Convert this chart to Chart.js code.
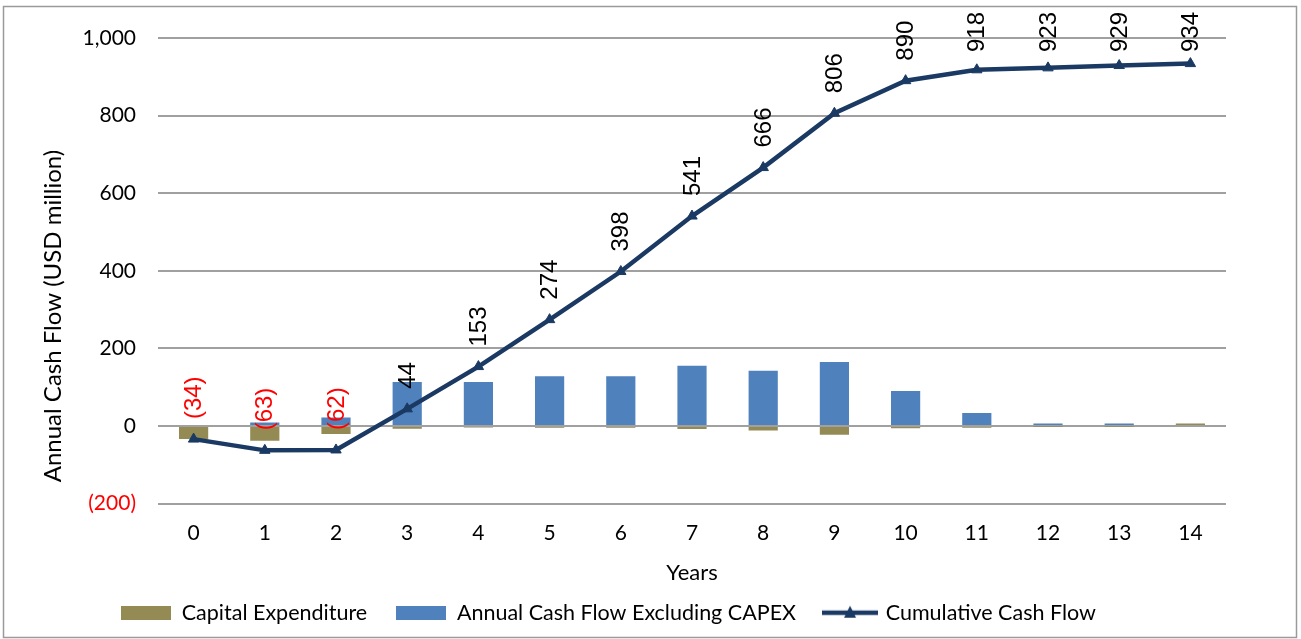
<!DOCTYPE html>
<html>
<head>
<meta charset="utf-8">
<script src="https://cdn.jsdelivr.net/npm/chart.js@4.4.1/dist/chart.umd.min.js"></script>
<style>
  html, body { margin: 0; padding: 0; background: #ffffff; }
  canvas { display: block; }
</style>
</head>
<body>
<canvas id="c" width="1301" height="639"></canvas>
<script>
// ---- Data ----
const years = ['0','1','2','3','4','5','6','7','8','9','10','11','12','13','14'];
const capitalExpenditure = [-34, -38, -21, -7, -4, -5, -5, -8, -12, -23, -6, -5, -1, -1, 6];
const annualCashFlowExCapex = [0, 9, 22, 113, 113, 128, 128, 155, 142, 165, 90, 33, 6, 6, 0];
const cumulativeCashFlow = [-34, -63, -62, 44, 153, 274, 398, 541, 666, 806, 890, 918, 923, 929, 934];
const yTicks = [-200, 0, 200, 400, 600, 800, 1000];

const seriesNames = ['Capital Expenditure', 'Annual Cash Flow Excluding CAPEX', 'Cumulative Cash Flow'];
const yAxisTitle = 'Annual Cash Flow (USD million)';
const xAxisTitle = 'Years';

// ---- Styles ----
const OLIVE = '#948A54';
const BLUE = '#4F81BD';
const NAVY = '#1B3A63';
const TEXT = '#000000';
const GRID = '#A0A0A0';
const UI_FONT = 'Lato, "Open Sans", sans-serif';
const LABEL_FONT = '"Liberation Sans", Arial, sans-serif';

function fmt(v) {
  const s = Math.abs(v).toLocaleString('en-US');
  return v < 0 ? '(' + s + ')' : s;
}

function makeSwatch(color, w, h) {
  const cv = document.createElement('canvas');
  cv.width = w; cv.height = h;
  const c = cv.getContext('2d');
  c.fillStyle = color;
  c.fillRect(0, 0, w, h);
  return cv;
}
function makeLineSwatch(color, w, h) {
  const cv = document.createElement('canvas');
  cv.width = w; cv.height = h;
  const c = cv.getContext('2d');
  c.strokeStyle = color;
  c.lineWidth = 4.5;
  c.beginPath();
  c.moveTo(0, h / 2); c.lineTo(w, h / 2);
  c.stroke();
  c.fillStyle = color;
  c.beginPath();
  c.moveTo(w / 2, h / 2 - 7);
  c.lineTo(w / 2 + 6, h / 2 + 5);
  c.lineTo(w / 2 - 6, h / 2 + 5);
  c.closePath();
  c.fill();
  return cv;
}
const legendStyles = [makeSwatch(OLIVE, 50, 14), makeSwatch(BLUE, 50, 14), makeLineSwatch(NAVY, 56, 16)];

const PLOT_LEFT = 158;
const PLOT_RIGHT = 1226;
const PLOT_TOP = 38;
const PLOT_BOTTOM = 503.5;

const framePlugin = {
  id: 'frame',
  beforeDraw(chart) {
    const ctx = chart.ctx;
    ctx.save();
    ctx.fillStyle = '#fff';
    ctx.fillRect(0, 0, chart.width, chart.height);
    ctx.strokeStyle = '#9A9A9A';
    ctx.lineWidth = 1.5;
    ctx.strokeRect(3.5, 6.5, 1293, 631);
    ctx.restore();
  },
  afterLayout(chart) {
    const lg = chart.legend;
    if (lg) {
      const dx = 122 - 30 - lg.left;
      const dy = -5.5;
      lg.left += dx; lg.right += dx;
      lg.top += dy; lg.bottom += dy;
    }
  },
  afterDraw(chart) {
    const ctx = chart.ctx;
    ctx.save();
    ctx.translate(53, 316);
    ctx.rotate(-Math.PI / 2);
    ctx.font = '24px ' + UI_FONT;
    ctx.fillStyle = TEXT;
    ctx.textAlign = 'center';
    ctx.textBaseline = 'middle';
    ctx.fillText(yAxisTitle, 0, 0);
    ctx.restore();
  }
};

const labelPlugin = {
  id: 'cumLabels',
  afterDatasetsDraw(chart) {
    const ctx = chart.ctx;
    const idx = chart.data.datasets.findIndex(d => d.type === 'line');
    const meta = chart.getDatasetMeta(idx);
    const data = chart.data.datasets[idx].data;
    ctx.save();
    ctx.font = '24px ' + LABEL_FONT;
    ctx.textBaseline = 'middle';
    ctx.textAlign = 'left';
    meta.data.forEach((pt, i) => {
      const v = data[i];
      const txt = fmt(v);
      const w = ctx.measureText(txt).width;
      let bottom = pt.y - 20;
      if (bottom - w < 12) bottom = 12 + w;
      ctx.fillStyle = v < 0 ? '#FF0000' : TEXT;
      ctx.save();
      ctx.translate(pt.x + 1, bottom);
      ctx.rotate(-Math.PI / 2);
      ctx.fillText(txt, 0, 0);
      ctx.restore();
    });
    ctx.restore();
  }
};

new Chart(document.getElementById('c'), {
  data: {
    labels: years,
    datasets: [
      {
        type: 'bar',
        label: seriesNames[0],
        data: capitalExpenditure,
        backgroundColor: OLIVE,
        barPercentage: 0.41,
        categoryPercentage: 1,
        stack: 's',
        order: 1
      },
      {
        type: 'bar',
        label: seriesNames[1],
        data: annualCashFlowExCapex,
        backgroundColor: BLUE,
        barPercentage: 0.41,
        categoryPercentage: 1,
        stack: 's',
        order: 1
      },
      {
        type: 'line',
        label: seriesNames[2],
        data: cumulativeCashFlow,
        borderColor: NAVY,
        backgroundColor: NAVY,
        borderWidth: 4.5,
        pointStyle: 'triangle',
        pointRadius: 6,
        pointBackgroundColor: NAVY,
        pointBorderColor: NAVY,
        pointBorderWidth: 1,
        tension: 0,
        order: 0
      }
    ]
  },
  options: {
    responsive: false,
    animation: false,
    devicePixelRatio: 1,
    layout: { padding: { left: 0, right: 1301 - PLOT_RIGHT, top: PLOT_TOP, bottom: 0 } },
    plugins: {
      tooltip: { enabled: false },
      legend: {
        position: 'bottom',
        align: 'start',
        labels: {
          usePointStyle: true,
          pointStyleWidth: 50,
          padding: 29,
          color: TEXT,
          font: { family: UI_FONT, size: 21.5 },
          sort: (a, b) => a.datasetIndex - b.datasetIndex,
          generateLabels(chart) {
            return chart.data.datasets.map((ds, i) => ({
              text: ds.label,
              pointStyle: legendStyles[i],
              fillStyle: ds.backgroundColor,
              strokeStyle: ds.borderColor || ds.backgroundColor,
              lineWidth: 0,
              hidden: false,
              datasetIndex: i,
              fontColor: TEXT
            }));
          }
        }
      }
    },
    scales: {
      x: {
        stacked: true,
        grid: { display: false, drawTicks: false },
        border: { display: false },
        ticks: { color: TEXT, font: { family: UI_FONT, size: 21 }, padding: 17, maxRotation: 0 },
        title: { display: true, text: xAxisTitle, color: TEXT, font: { family: UI_FONT, size: 22 }, padding: { top: 0, bottom: -8 } },
        afterFit(scale) {
          const lh = scale.chart.legend ? scale.chart.legend.height : 0;
          scale.height = 639 - PLOT_BOTTOM - lh;
        }
      },
      y: {
        stacked: true,
        min: -200,
        max: 1000,
        afterBuildTicks(scale) {
          scale.ticks = yTicks.map(v => ({ value: v }));
        },
        grid: { color: GRID, lineWidth: 2, drawTicks: false },
        border: { display: false },
        ticks: {
          padding: 22,
          color: (c) => (c.tick && c.tick.value < 0 ? '#FF0000' : TEXT),
          font: { family: UI_FONT, size: 21 },
          callback: (v) => fmt(v)
        },
        afterFit(scale) { scale.width = PLOT_LEFT; }
      }
    }
  },
  plugins: [framePlugin, labelPlugin]
});
</script>
</body>
</html>
